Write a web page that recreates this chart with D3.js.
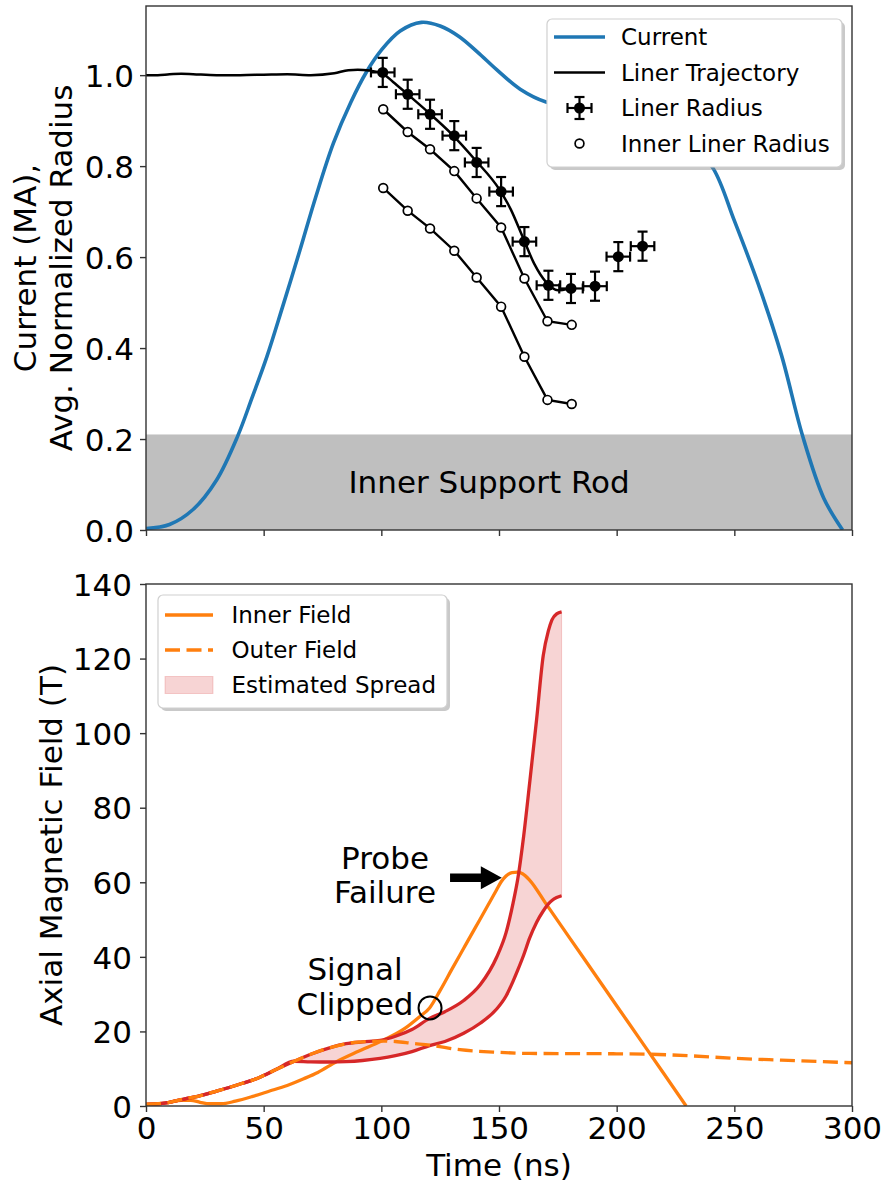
<!DOCTYPE html>
<html>
<head>
<meta charset="utf-8">
<script src="https://cdn.jsdelivr.net/npm/d3@7"></script>
<style>
  html, body { margin: 0; padding: 0; background: #fff; }
  svg { display: block; font-family: "DejaVu Sans", sans-serif; }
</style>
</head>
<body>
<svg id="fig" width="883" height="1184"></svg>
<script>
// ---------- Upper panel: drive current and liner radius ----------
const currentT  = [0, 10, 20, 30, 39, 45, 51.3, 58, 65.4, 72, 79.6, 87, 93.8, 100, 108, 117, 125, 133, 141, 149, 159, 170, 180, 190, 200, 210, 220, 230, 241, 250, 260, 270, 279, 288, 296];
const currentMA = [0.003, 0.012, 0.045, 0.11, 0.207, 0.29, 0.38, 0.49, 0.615, 0.73, 0.85, 0.94, 1.008, 1.055, 1.097, 1.116, 1.108, 1.085, 1.05, 1.012, 0.969, 0.941, 0.933, 0.94, 0.947, 0.937, 0.905, 0.86, 0.795, 0.68, 0.543, 0.385, 0.207, 0.07, 0.0];

const trajT = [0, 5, 10, 15, 20, 30, 40, 50, 60, 70, 80, 86, 90, 95, 100, 105, 110, 120, 130, 140, 150, 155, 160, 165, 170, 175, 180];
const trajR = [1.0, 1.0, 1.002, 1.003, 1.002, 1.0, 1.0, 1.001, 1.002, 1.0, 1.004, 1.011, 1.012, 1.01, 1.005, 0.985, 0.963, 0.918, 0.87, 0.813, 0.75, 0.705, 0.645, 0.585, 0.545, 0.527, 0.531];

const radiusT = [100.6, 111.2, 120.7, 131.0, 140.5, 150.9, 160.8, 171.0, 180.6, 190.8, 200.7, 211.0];
const radiusR = [1.006, 0.958, 0.914, 0.867, 0.808, 0.744, 0.634, 0.538, 0.531, 0.536, 0.601, 0.624];
const radiusTErr = [5, 5, 5, 5, 5, 5, 5, 5, 5, 5, 5, 5];
const radiusRErr = [0.032, 0.032, 0.032, 0.032, 0.032, 0.032, 0.032, 0.032, 0.032, 0.032, 0.032, 0.032];

const innerT  = [100.8, 111.2, 120.7, 131.0, 140.5, 150.9, 160.8, 170.6, 180.9];
const innerR1 = [0.925, 0.875, 0.837, 0.789, 0.729, 0.665, 0.553, 0.459, 0.451];
const innerR2 = [0.752, 0.702, 0.663, 0.614, 0.555, 0.491, 0.381, 0.286, 0.277];

const rodRadius = 0.21;
const topYTicks = [0, 0.2, 0.4, 0.6, 0.8, 1.0];

// ---------- Lower panel: axial magnetic field ----------
const innerFieldT = [0, 5, 10, 15, 19, 23, 27, 32, 38, 45, 52, 60, 67, 73, 81, 90, 100, 110, 116, 120.5, 125, 130, 135, 140, 145, 149, 151, 153, 155.5, 158, 160, 163, 170, 180, 190, 200, 210, 220, 229.5];
const innerFieldB = [0.4, 0.6, 1.0, 1.5, 1.5, 1.0, 0.6, 0.6, 1.3, 2.5, 3.9, 5.5, 7.3, 9.0, 11.9, 14.6, 17.4, 20.8, 23.8, 26.3, 31.0, 36.7, 42.3, 47.9, 53.5, 58.0, 60.2, 61.7, 62.6, 62.7, 62.3, 60.6, 54.2, 45.1, 36.0, 26.9, 17.8, 8.7, 0.0];

const outerFieldT = [0, 10, 17, 22, 30, 36, 41, 46, 50, 55, 63, 70, 78, 85, 92, 99.5, 106, 113, 120.7, 133.4, 150, 163, 180, 200, 213, 230, 250, 270, 300];
const outerFieldB = [0.4, 1.0, 2.0, 2.6, 4.0, 5.1, 6.1, 7.1, 8.2, 9.7, 12.0, 13.9, 15.6, 16.7, 17.2, 17.4, 17.3, 16.8, 16.3, 15.1, 14.4, 14.1, 14.05, 14.0, 13.9, 13.5, 12.8, 12.3, 11.6];

const spreadT  = [0, 10, 17, 22, 30, 36, 41, 46, 50, 55, 63, 70, 78, 85, 92, 99.5, 106, 113, 120.5, 127, 135, 142, 149, 153, 156, 158, 160.5, 163, 166, 168.8, 171, 172.5, 174.5, 176.6];
const spreadHi = [0.4, 1.0, 2.0, 2.6, 4.0, 5.1, 6.1, 7.1, 8.2, 9.7, 12.0, 13.9, 15.6, 16.7, 17.2, 17.6, 18.7, 20.5, 23.5, 25.3, 28.3, 32.5, 39.9, 46.5, 54.5, 61.0, 72.5, 86.5, 103.8, 120.8, 127.5, 130.4, 132.0, 132.5];
const spreadLo = [0.4, 1.0, 2.0, 2.6, 4.0, 5.1, 6.1, 7.1, 8.2, 9.7, 12.0, 11.85, 11.8, 11.9, 12.2, 12.75, 13.5, 14.6, 16.2, 17.3, 19.5, 22.2, 26.0, 29.5, 33.5, 36.5, 40.5, 45.0, 49.3, 52.3, 54.2, 55.1, 55.9, 56.4];

const clipPoint = [120.7, 26.3];
const timeTicks = [0, 50, 100, 150, 200, 250, 300];
const fieldTicks = [0, 20, 40, 60, 80, 100, 120, 140];

// ---------- colours ----------
const C_BLUE = "#1f77b4", C_ORANGE = "#ff7f0e", C_RED = "#d62728";
const SPINE = "#333";
const FS_TICK = 31, FS_LABEL = 31, FS_LEG = 23;

const svg = d3.select("#fig");
const zip = (a, b) => a.map((v, i) => [v, b[i]]);

// shared x extent
const xL = 146, xR = 852;
const xTop = d3.scaleLinear().domain([0, 300]).range([xL, xR]);
const yTop = d3.scaleLinear().domain([0, 1.152]).range([530, 6]);
const xBot = d3.scaleLinear().domain([0, 300]).range([xL, xR]);
const yBot = d3.scaleLinear().domain([0, 140]).range([1106, 584]);

function clip(id, x, y) {
  svg.append("clipPath").attr("id", id).append("rect")
    .attr("x", x.range()[0]).attr("y", y.range()[1])
    .attr("width", x.range()[1] - x.range()[0])
    .attr("height", y.range()[0] - y.range()[1]);
}
clip("clipTop", xTop, yTop);
clip("clipBot", xBot, yBot);

function styleAxis(g) {
  g.selectAll(".domain").remove();
  g.selectAll(".tick line").attr("stroke", SPINE).attr("stroke-width", 1.4);
  g.selectAll(".tick text").attr("fill", "#000").style("font-size", FS_TICK + "px")
    .style("font-family", "DejaVu Sans");
}
function frame(x, y) {
  svg.append("rect")
    .attr("x", x.range()[0]).attr("y", y.range()[1])
    .attr("width", x.range()[1] - x.range()[0])
    .attr("height", y.range()[0] - y.range()[1])
    .attr("fill", "none").attr("stroke", SPINE).attr("stroke-width", 1.4);
}

// =================== Upper panel ===================
const gT = svg.append("g").attr("clip-path", "url(#clipTop)");

// inner support rod band
gT.append("rect")
  .attr("x", xTop(0)).attr("width", xTop(300) - xTop(0))
  .attr("y", yTop(rodRadius)).attr("height", yTop(0) - yTop(rodRadius))
  .attr("fill", "#bfbfbf");
gT.append("text")
  .attr("x", xTop(145.8)).attr("y", yTop(rodRadius / 2))
  .attr("text-anchor", "middle").attr("dominant-baseline", "central")
  .style("font-size", FS_LABEL + "px").text("Inner Support Rod");

const lineTop = d3.line().x(d => xTop(d[0])).y(d => yTop(d[1]));

gT.append("path").datum(zip(currentT, currentMA))
  .attr("d", lineTop.curve(d3.curveCatmullRom.alpha(0.5)))
  .attr("fill", "none").attr("stroke", C_BLUE).attr("stroke-width", 3.6);

gT.append("path").datum(zip(trajT, trajR))
  .attr("d", lineTop.curve(d3.curveMonotoneX))
  .attr("fill", "none").attr("stroke", "#000").attr("stroke-width", 2.5);

[innerR1, innerR2].forEach(rs => {
  const pts = zip(innerT, rs);
  gT.append("path").datum(pts)
    .attr("d", lineTop.curve(d3.curveLinear))
    .attr("fill", "none").attr("stroke", "#000").attr("stroke-width", 2.4);
  gT.selectAll(null).data(pts).join("circle")
    .attr("cx", d => xTop(d[0])).attr("cy", d => yTop(d[1])).attr("r", 4.4)
    .attr("fill", "#fff").attr("stroke", "#000").attr("stroke-width", 1.7);
});

// liner radius with error bars
const cap = 5;
radiusT.forEach((t, i) => {
  const g = gT.append("g").attr("stroke", "#000").attr("stroke-width", 2.2);
  const cx = xTop(t), cy = yTop(radiusR[i]);
  const xa = xTop(t - radiusTErr[i]), xb = xTop(t + radiusTErr[i]);
  const ya = yTop(radiusR[i] + radiusRErr[i]), yb = yTop(radiusR[i] - radiusRErr[i]);
  g.append("line").attr("x1", xa).attr("x2", xb).attr("y1", cy).attr("y2", cy);
  g.append("line").attr("x1", cx).attr("x2", cx).attr("y1", ya).attr("y2", yb);
  [xa, xb].forEach(xx => g.append("line").attr("x1", xx).attr("x2", xx).attr("y1", cy - cap).attr("y2", cy + cap));
  [ya, yb].forEach(yy => g.append("line").attr("x1", cx - cap).attr("x2", cx + cap).attr("y1", yy).attr("y2", yy));
  g.append("circle").attr("cx", cx).attr("cy", cy).attr("r", 5.5).attr("fill", "#000").attr("stroke", "none");
});

frame(xTop, yTop);
svg.append("g").attr("transform", `translate(0,${yTop.range()[0]})`)
  .call(d3.axisBottom(xTop).tickValues(timeTicks).tickSize(6).tickSizeOuter(0).tickFormat(""))
  .call(styleAxis);
svg.append("g").attr("transform", `translate(${xL},0)`)
  .call(d3.axisLeft(yTop).tickValues(topYTicks).tickSize(6).tickPadding(6).tickFormat(d3.format(".1f")))
  .call(styleAxis)
  .call(g => g.selectAll(".tick text").attr("dy", "0.36em"));

const yl1 = svg.append("text").attr("transform", `translate(36,${(yTop.range()[0] + yTop.range()[1]) / 2}) rotate(-90)`)
  .attr("text-anchor", "middle").style("font-size", FS_LABEL + "px");
yl1.append("tspan").attr("x", 0).attr("dy", 0).text("Current (MA),");
yl1.append("tspan").attr("x", 0).attr("dy", 35.7).text("Avg. Normalized Radius");

// legend (upper)
function legendBox(x, y, w, h) {
  svg.append("rect").attr("x", x + 3).attr("y", y + 3).attr("width", w).attr("height", h)
    .attr("rx", 5).attr("fill", "#888").attr("opacity", 0.45);
  svg.append("rect").attr("x", x).attr("y", y).attr("width", w).attr("height", h)
    .attr("rx", 5).attr("fill", "#fff").attr("stroke", "#d0d0d0").attr("stroke-width", 1.2);
}
{
  const bx = 547, by = 19, hx0 = 554, hx1 = 605, tx = 621;
  legendBox(bx, by, 295, 148);
  const rows = [37, 72.5, 108, 143.5];
  const labels = ["Current", "Liner Trajectory", "Liner Radius", "Inner Liner Radius"];
  svg.append("line").attr("x1", hx0).attr("x2", hx1).attr("y1", rows[0]).attr("y2", rows[0])
    .attr("stroke", C_BLUE).attr("stroke-width", 3.6);
  svg.append("line").attr("x1", hx0).attr("x2", hx1).attr("y1", rows[1]).attr("y2", rows[1])
    .attr("stroke", "#000").attr("stroke-width", 2.5);
  const cx = (hx0 + hx1) / 2;
  const eg = svg.append("g").attr("stroke", "#000").attr("stroke-width", 2.2);
  eg.append("line").attr("x1", cx - 12).attr("x2", cx + 12).attr("y1", rows[2]).attr("y2", rows[2]);
  eg.append("line").attr("x1", cx).attr("x2", cx).attr("y1", rows[2] - 11).attr("y2", rows[2] + 11);
  [-12, 12].forEach(d => eg.append("line").attr("x1", cx + d).attr("x2", cx + d).attr("y1", rows[2] - cap).attr("y2", rows[2] + cap));
  [-11, 11].forEach(d => eg.append("line").attr("x1", cx - cap).attr("x2", cx + cap).attr("y1", rows[2] + d).attr("y2", rows[2] + d));
  eg.append("circle").attr("cx", cx).attr("cy", rows[2]).attr("r", 5.5).attr("fill", "#000").attr("stroke", "none");
  svg.append("circle").attr("cx", cx).attr("cy", rows[3]).attr("r", 4.4)
    .attr("fill", "#fff").attr("stroke", "#000").attr("stroke-width", 1.7);
  labels.forEach((s, i) => svg.append("text").attr("x", tx).attr("y", rows[i])
    .attr("dy", "0.36em").style("font-size", FS_LEG + "px").text(s));
}

// =================== Lower panel ===================
const gB = svg.append("g").attr("clip-path", "url(#clipBot)");
const lineBot = d3.line().x(d => xBot(d[0])).y(d => yBot(d[1])).curve(d3.curveMonotoneX);
const spreadPts = spreadT.map((t, i) => ({ t, lo: spreadLo[i], hi: spreadHi[i] }));

gB.append("path").datum(spreadPts)
  .attr("d", d3.area().x(d => xBot(d.t)).y0(d => yBot(d.lo)).y1(d => yBot(d.hi)).curve(d3.curveMonotoneX))
  .attr("fill", C_RED).attr("fill-opacity", 0.2)
  .attr("stroke", C_RED).attr("stroke-opacity", 0.2).attr("stroke-width", 1);

gB.append("path").datum(zip(innerFieldT, innerFieldB)).attr("d", lineBot)
  .attr("fill", "none").attr("stroke", C_ORANGE).attr("stroke-width", 3.3);

[spreadHi, spreadLo].forEach(vals => {
  gB.append("path").datum(zip(spreadT, vals)).attr("d", lineBot)
    .attr("fill", "none").attr("stroke", C_RED).attr("stroke-width", 3.3);
});

gB.append("path").datum(zip(outerFieldT, outerFieldB)).attr("d", lineBot)
  .attr("fill", "none").attr("stroke", C_ORANGE).attr("stroke-width", 3.3)
  .attr("stroke-dasharray", "15,6.5");

// signal-clipped marker
gB.append("circle").attr("cx", xBot(clipPoint[0])).attr("cy", yBot(clipPoint[1])).attr("r", 11.5)
  .attr("fill", "none").attr("stroke", "#000").attr("stroke-width", 2);

frame(xBot, yBot);
svg.append("g").attr("transform", `translate(0,${yBot.range()[0]})`)
  .call(d3.axisBottom(xBot).tickValues(timeTicks).tickSize(6).tickSizeOuter(0).tickPadding(3.5))
  .call(styleAxis)
  .call(g => g.selectAll(".tick text").attr("dy", "0.76em"));
svg.append("g").attr("transform", `translate(${xL},0)`)
  .call(d3.axisLeft(yBot).tickValues(fieldTicks).tickSize(6).tickPadding(8))
  .call(styleAxis)
  .call(g => g.selectAll(".tick text").attr("dy", "0.36em"));

svg.append("text").attr("x", (xL + xR) / 2).attr("y", 1175.5).attr("text-anchor", "middle")
  .style("font-size", FS_LABEL + "px").text("Time (ns)");
svg.append("text").attr("transform", `translate(61.5,${(yBot.range()[0] + yBot.range()[1]) / 2}) rotate(-90)`)
  .attr("text-anchor", "middle").style("font-size", FS_LABEL + "px").text("Axial Magnetic Field (T)");

// annotations
const probe = svg.append("text").attr("text-anchor", "middle").style("font-size", FS_LABEL + "px");
probe.append("tspan").attr("x", 385).attr("y", 868.5).text("Probe");
probe.append("tspan").attr("x", 385).attr("y", 903).text("Failure");

const sig = svg.append("text").attr("text-anchor", "middle").style("font-size", FS_LABEL + "px");
sig.append("tspan").attr("x", 355).attr("y", 980).text("Signal");
sig.append("tspan").attr("x", 355).attr("y", 1015).text("Clipped");

// arrow pointing at the inner-field peak
{
  const ax0 = xBot(129.2), ax1 = xBot(151.2), ay = yBot(61.2);
  const hl = 21, hw = 11.5, sw = 4.3;
  svg.append("path")
    .attr("d", `M${ax0},${ay - sw} L${ax1 - hl},${ay - sw} L${ax1 - hl},${ay - hw} L${ax1},${ay} L${ax1 - hl},${ay + hw} L${ax1 - hl},${ay + sw} L${ax0},${ay + sw} Z`)
    .attr("fill", "#000");
}

// legend (lower)
{
  const bx = 158, by = 595, hx0 = 165, hx1 = 213, tx = 231.5;
  legendBox(bx, by, 289, 113);
  const rows = [615, 650, 685];
  svg.append("line").attr("x1", hx0).attr("x2", hx1).attr("y1", rows[0]).attr("y2", rows[0])
    .attr("stroke", C_ORANGE).attr("stroke-width", 3.3);
  svg.append("line").attr("x1", hx0).attr("x2", hx1).attr("y1", rows[1]).attr("y2", rows[1])
    .attr("stroke", C_ORANGE).attr("stroke-width", 3.3).attr("stroke-dasharray", "15,6.5");
  svg.append("rect").attr("x", hx0).attr("y", rows[2] - 8.5).attr("width", hx1 - hx0).attr("height", 17)
    .attr("fill", C_RED).attr("fill-opacity", 0.2).attr("stroke", C_RED).attr("stroke-opacity", 0.2);
  ["Inner Field", "Outer Field", "Estimated Spread"].forEach((s, i) =>
    svg.append("text").attr("x", tx).attr("y", rows[i]).attr("dy", "0.36em")
      .style("font-size", FS_LEG + "px").text(s));
}
</script>
</body>
</html>
